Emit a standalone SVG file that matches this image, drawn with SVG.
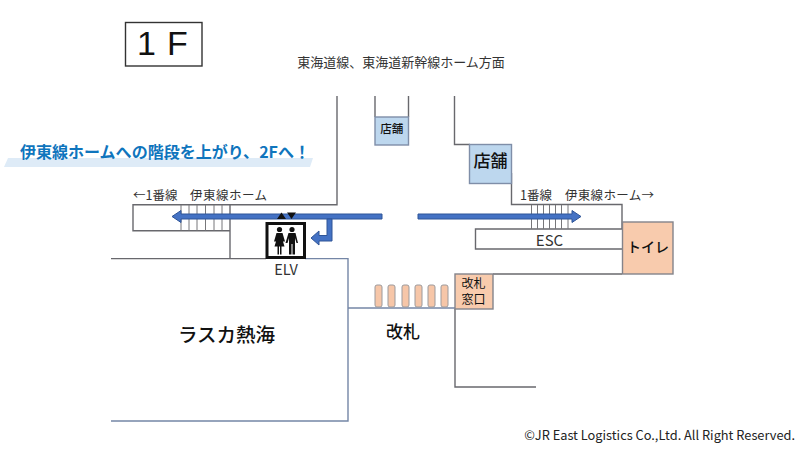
<svg xmlns="http://www.w3.org/2000/svg" width="800" height="449" viewBox="0 0 800 449">
<defs>
<style>
text{font-family:"Noto Sans CJK JP","Noto Sans",sans-serif;fill:#333}
.w{fill:none;stroke:#68686d;stroke-width:1.4}
.wb{fill:none;stroke:#7486a6;stroke-width:1.4}
.st{fill:none;stroke:#77777a;stroke-width:1}
.blue{fill:#bdd7ee;stroke:#7f8ea8;stroke-width:1.4}
.org{fill:#f8cbad;stroke:#84838a;stroke-width:1.4}
.gate{fill:#f6c6a8;stroke:#9c9a9c;stroke-width:1}
.arr{fill:#4472c4;stroke:#2f5597;stroke-width:1}
.lab{font-size:12.5px}
</style>
</defs>
<rect width="800" height="449" fill="#fff"/>
<g id="connectors">
<path class="w" d="M337 96V204.700H133V230.700H230"/>
<path class="w" d="M230 204.700V258.600"/>
<path class="w" d="M111 258.600H266"/>
<path class="wb" d="M305 258.600H348V421H111"/>
<path class="wb" d="M348 308H455"/>
<path class="w" d="M375 96V117M408.500 96V117"/>
<path class="w" d="M454.500 96V144.500H470"/>
<path class="w" d="M511.500 173V204.500H622V229H475.500V249H622"/>
<path class="w" d="M493 274H622"/>
<path class="w" d="M455 309V387H536"/>
<path class="st" d="M181 205V230.500M189 205V230.500M197 205V230.500M205.500 205V230.500M214 205V230.500M222 205V230.500"/>
<path class="st" d="M531.500 205V229M537.500 205V229M543.500 205V229M549.500 205V229M555.500 205V229M561.500 205V229M568 205V229"/>
<path class="arr" d="M382 214V219H181V222.500L172 216.500L181 210.500V214Z"/>
<path class="arr" d="M418 214V219H572V222.500L581 216.500L572 210.500V214Z"/>
<path class="arr" d="M327 219H332V241H319V245L311 238L319 231V235.500H327Z"/>
</g>
<g id="title"><rect x="125.500" y="22.500" width="76.500" height="43.500" fill="#fff" stroke="#333" stroke-width="1.4"/><text y="55" font-size="34" style="fill:#111;font-family:'Liberation Sans',sans-serif"><tspan x="137">1</tspan><tspan x="167">F</tspan></text></g>
<g id="direction"><text x="401" y="67" font-size="13" text-anchor="middle">東海道線、東海道新幹線ホーム方面</text></g>
<g id="banner"><polygon points="8,158 313,158 310,167 4,167" fill="#deebf7"/><text x="20" y="158" font-size="16" font-weight="700" style="fill:#0f75bd" textLength="290" lengthAdjust="spacingAndGlyphs">伊東線ホームへの階段を上がり、2Fへ！</text></g>
<g id="shop-small"><rect class="blue" x="375" y="117" width="33.500" height="28"/><text x="391.700" y="133" font-size="11.500" text-anchor="middle" font-weight="500" style="fill:#111">店舗</text></g>
<g id="shop-large"><rect class="blue" x="469.500" y="144.500" width="42" height="39"/><text x="490.500" y="167" font-size="17" text-anchor="middle" font-weight="500" style="fill:#111">店舗</text></g>
<g id="platform-left"><text x="133" y="200" class="lab">←1番線</text><text x="190" y="200" class="lab" textLength="77">伊東線ホーム</text></g>
<g id="platform-right"><text x="520" y="200" class="lab">1番線</text><text x="565" y="200" class="lab" textLength="89">伊東線ホーム→</text></g>
<g id="elv">
<rect x="267" y="223.500" width="37.500" height="34" fill="#fff" stroke="#111" stroke-width="3"/>
<path d="M277 219L281.500 212.500L286 219Z" fill="#111"/>
<path d="M287 212.500H296L291.500 219Z" fill="#111"/>
<circle cx="279.500" cy="229.500" r="2.600" fill="#111"/><circle cx="292" cy="229.500" r="2.600" fill="#111"/>
<path d="M276.500 233H282.500L285 241.500H283L284.500 246.500H281.500V254.500H280V246.500H279V254.500H277.500V246.500H274.500L276 241.500H274Z" fill="#111"/>
<path d="M288.500 233H295.500L298 243H296.500L295 238V254.500H292.500V244H291.500V254.500H289V238L287.500 243H285.500Z" fill="#111"/>
<text x="286" y="275" font-size="14.500" text-anchor="middle">ELV</text>
</g>
<g id="esc"><text x="549.500" y="245.500" font-size="15" text-anchor="middle">ESC</text></g>
<g id="toilet"><rect class="org" x="622.500" y="222" width="50.500" height="52"/><text x="648" y="252" font-size="14" text-anchor="middle" font-weight="500" style="fill:#111">トイレ</text></g>
<g id="window"><rect class="org" x="455" y="274" width="38" height="35"/><text x="473.500" y="288" font-size="12" text-anchor="middle" style="fill:#111">改札</text><text x="473.500" y="304" font-size="12" text-anchor="middle" style="fill:#111">窓口</text></g>
<g id="gates">
<rect class="gate" x="375" y="285" width="7" height="22" rx="2"/>
<rect class="gate" x="388" y="285" width="7" height="22" rx="2"/>
<rect class="gate" x="402" y="285" width="7" height="22" rx="2"/>
<rect class="gate" x="415" y="285" width="7" height="22" rx="2"/>
<rect class="gate" x="428" y="285" width="7" height="22" rx="2"/>
<rect class="gate" x="441" y="285" width="7" height="22" rx="2"/>
<text x="403" y="338" font-size="17" text-anchor="middle" font-weight="500" style="fill:#111">改札</text>
</g>
<g id="lasca"><text x="226.500" y="342" font-size="19.500" text-anchor="middle" font-weight="500" style="fill:#111">ラスカ熱海</text></g>
<g id="copyright"><text x="795" y="440" font-size="12.800" text-anchor="end" style="fill:#222">©JR East Logistics Co.,Ltd. All Right Reserved.</text></g>
</svg>
